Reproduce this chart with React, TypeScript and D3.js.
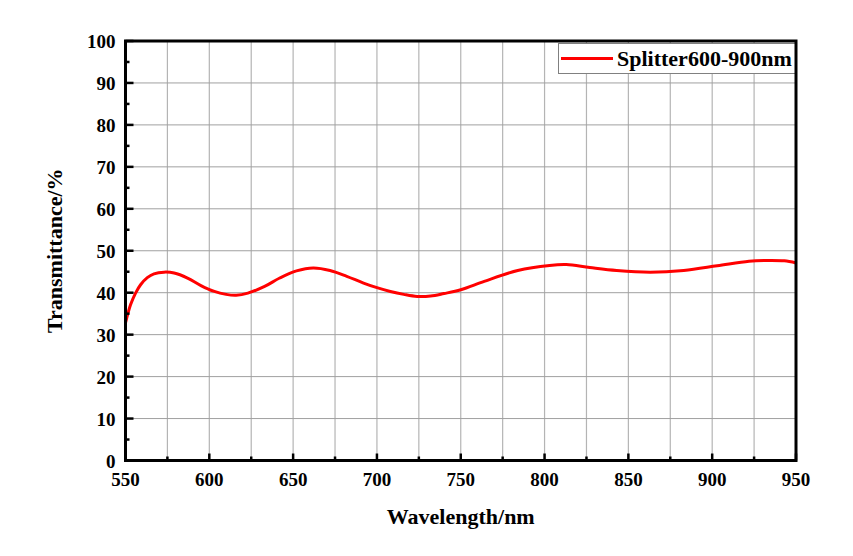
import React from 'react';
import * as d3 from 'd3';

// wavelength (nm) and transmittance (%)
const wavelengths = [550, 553, 556, 559, 563, 567, 573, 579, 587, 595, 603, 610, 616, 623, 633, 642, 652, 662, 672, 682, 692, 700, 708, 716, 724, 732, 740, 750, 764, 784, 803, 813, 827, 843, 863, 883, 903, 922, 934, 943, 950];
const transmittance = [32.8, 37.1, 39.9, 41.9, 43.6, 44.5, 44.9, 44.7, 43.5, 41.7, 40.3, 39.6, 39.4, 39.9, 41.5, 43.5, 45.2, 45.9, 45.3, 43.9, 42.3, 41.2, 40.3, 39.6, 39.1, 39.2, 39.8, 40.7, 42.7, 45.3, 46.5, 46.7, 46.0, 45.3, 44.9, 45.3, 46.4, 47.5, 47.7, 47.6, 47.1];

const xTicks = [550, 600, 650, 700, 750, 800, 850, 900, 950];
const xMinor = [575, 625, 675, 725, 775, 825, 875, 925];
const yTicks = [0, 10, 20, 30, 40, 50, 60, 70, 80, 90, 100];
const yMinor = [5, 15, 25, 35, 45, 55, 65, 75, 85, 95];

const seriesName = 'Splitter600-900nm';
const xTitle = 'Wavelength/nm';
const yTitle = 'Transmittance/%';

const W = 853;
const H = 556;
const m = { left: 125.5, right: 796, top: 41, bottom: 460.5 };
const font = '"Liberation Serif", "Times New Roman", serif';

const App = () => {
  const x = d3.scaleLinear().domain([550, 950]).range([m.left, m.right]);
  const y = d3.scaleLinear().domain([0, 100]).range([m.bottom, m.top]);

  const pts = wavelengths.map((w, i) => [w, transmittance[i]] as [number, number]);
  const line = d3
    .line<[number, number]>()
    .x((d) => x(d[0]))
    .y((d) => y(d[1]))
    .curve(d3.curveCatmullRom.alpha(0.5));

  return (
    <svg width={W} height={H} style={{ position: 'absolute', left: 0, top: 0, background: '#fff' }}>
      <rect width={W} height={H} fill='#fff' />
      {/* grid */}
      {[...xTicks, ...xMinor].map((t) => (
        <line key={'gx' + t} x1={x(t)} x2={x(t)} y1={m.top} y2={m.bottom} stroke='#b4b4b4' strokeWidth={1.2} />
      ))}
      {yTicks.map((t) => (
        <line key={'gy' + t} x1={m.left} x2={m.right} y1={y(t)} y2={y(t)} stroke='#a0a0a0' strokeWidth={1} />
      ))}

      {/* curve */}
      <path d={line(pts) || ''} fill='none' stroke='#ff0000' strokeWidth={3} />

      {/* ticks */}
      {xTicks.map((t) => (
        <line key={'tx' + t} x1={x(t)} x2={x(t)} y1={m.bottom} y2={m.bottom - 7} stroke='#000' strokeWidth={2.5} />
      ))}
      {xMinor.map((t) => (
        <line key={'mx' + t} x1={x(t)} x2={x(t)} y1={m.bottom} y2={m.bottom - 4} stroke='#000' strokeWidth={2.5} />
      ))}
      {yTicks.map((t) => (
        <line key={'ty' + t} x1={m.left} x2={m.left + 8} y1={y(t)} y2={y(t)} stroke='#000' strokeWidth={2.5} />
      ))}
      {yMinor.map((t) => (
        <line key={'my' + t} x1={m.left} x2={m.left + 4} y1={y(t)} y2={y(t)} stroke='#000' strokeWidth={2.5} />
      ))}

      {/* tick labels */}
      {xTicks.map((t) => (
        <text key={'lx' + t} x={x(t)} y={m.bottom + 25.5} textAnchor='middle' fontFamily={font} fontWeight='bold' fontSize={19}>
          {t}
        </text>
      ))}
      {yTicks.map((t) => (
        <text key={'ly' + t} x={m.left - 10} y={y(t) + 7} textAnchor='end' fontFamily={font} fontWeight='bold' fontSize={19}>
          {t}
        </text>
      ))}

      {/* axis titles */}
      <text x={(m.left + m.right) / 2} y={524} textAnchor='middle' fontFamily={font} fontWeight='bold' fontSize={22}>
        {xTitle}
      </text>
      <text
        transform={`translate(62, ${(m.top + m.bottom) / 2}) rotate(-90)`}
        textAnchor='middle'
        fontFamily={font}
        fontWeight='bold'
        fontSize={22}
      >
        {yTitle}
      </text>

      {/* legend */}
      <rect x={558.5} y={43.5} width={m.right - 558.5} height={30} fill='#fff' stroke='#808080' strokeWidth={1} />
      <line x1={561} x2={613} y1={58.5} y2={58.5} stroke='#ff0000' strokeWidth={3} />
      <text x={617} y={66} fontFamily={font} fontWeight='bold' fontSize={22}>
        {seriesName}
      </text>

      {/* frame */}
      <rect x={m.left} y={m.top} width={m.right - m.left} height={m.bottom - m.top} fill='none' stroke='#000' strokeWidth={3} />
    </svg>
  );
};

export default App;
